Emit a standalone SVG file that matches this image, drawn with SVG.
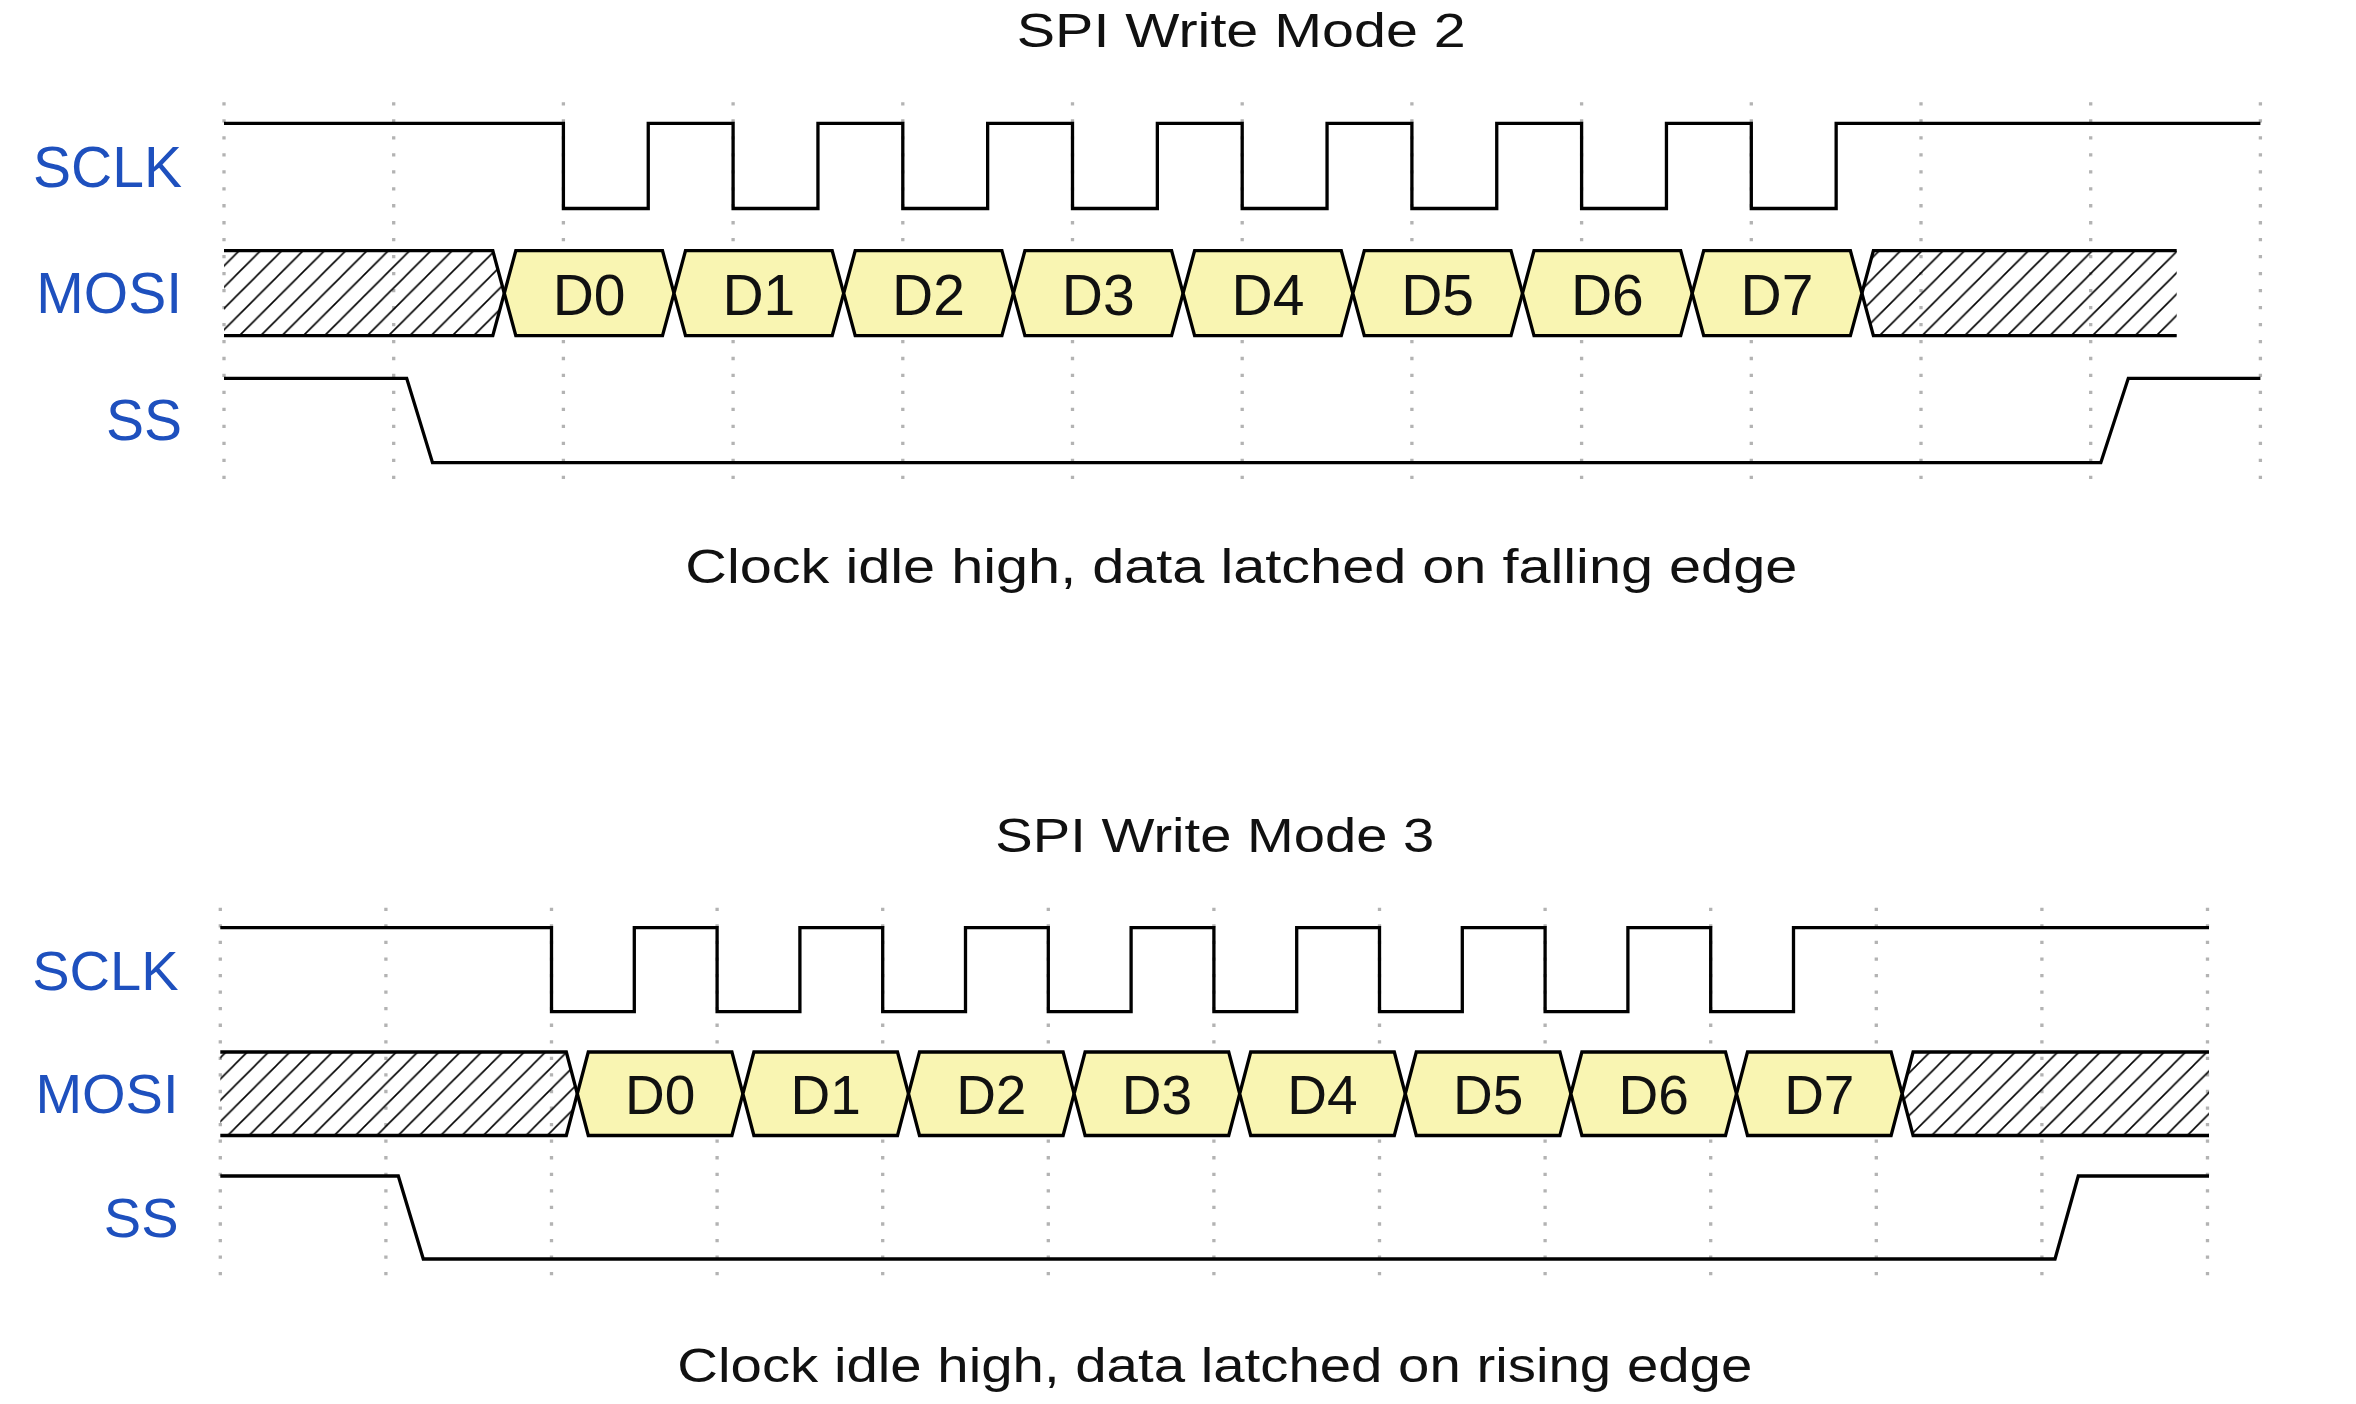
<svg xmlns="http://www.w3.org/2000/svg" width="2356" height="1404" viewBox="0 0 2356 1404">
<defs>
<pattern id="hatch" patternUnits="userSpaceOnUse" width="21.3" height="21.3">
<path d="M0,21.3 L21.3,0 M-5,5 L5,-5 M16.3,26.3 L26.3,16.3" stroke="#000" stroke-width="1.6" fill="none"/>
</pattern>
<style>
.grid{stroke:#b3b3b3;stroke-width:3.3;fill:none}
.sig{stroke:#000;stroke-width:3.3;fill:none;stroke-linejoin:miter}
.hex{fill:#f9f5b2;stroke:#000;stroke-width:3.3;stroke-linejoin:miter}
.hf{fill:url(#hatch);stroke:none}
.lbl{font-family:"Liberation Sans",Arial,sans-serif;fill:#1e50be;text-anchor:end}
.dat{font-family:"Liberation Sans",Arial,sans-serif;fill:#111;text-anchor:middle}
.ttl{font-family:"Liberation Sans",Arial,sans-serif;fill:#111;text-anchor:middle;font-size:49px}
</style>
</defs>
<rect width="2356" height="1404" fill="#fff"/>

<!-- ===== Mode 2 ===== -->
<g id="mode2">
<text class="ttl" x="1241.3" y="46.7" textLength="449" lengthAdjust="spacingAndGlyphs">SPI Write Mode 2</text>
<g id="grid2" class="grid" stroke-dasharray="3.3 13.67">
<line x1="224" y1="102.3" x2="224" y2="482"/>
<line x1="393.7" y1="102.3" x2="393.7" y2="482"/>
<line x1="563.4" y1="102.3" x2="563.4" y2="482"/>
<line x1="733.1" y1="102.3" x2="733.1" y2="482"/>
<line x1="902.8" y1="102.3" x2="902.8" y2="482"/>
<line x1="1072.5" y1="102.3" x2="1072.5" y2="482"/>
<line x1="1242.2" y1="102.3" x2="1242.2" y2="482"/>
<line x1="1411.9" y1="102.3" x2="1411.9" y2="482"/>
<line x1="1581.6" y1="102.3" x2="1581.6" y2="482"/>
<line x1="1751.3" y1="102.3" x2="1751.3" y2="482"/>
<line x1="1921" y1="102.3" x2="1921" y2="482"/>
<line x1="2090.7" y1="102.3" x2="2090.7" y2="482"/>
<line x1="2260.4" y1="102.3" x2="2260.4" y2="482"/>
</g>
<g id="labels2" class="lbl" font-size="57">
<text x="182" y="187.3">SCLK</text>
<text x="182" y="313.3">MOSI</text>
<text x="182" y="440">SS</text>
</g>
<g id="sclk2">
<path class="sig" d="M224,123.3 H563.4 V208.5 H648.25 V123.3 H733.1 V208.5 H817.95 V123.3 H902.8 V208.5 H987.65 V123.3 H1072.5 V208.5 H1157.35 V123.3 H1242.2 V208.5 H1327.05 V123.3 H1411.9 V208.5 H1496.75 V123.3 H1581.6 V208.5 H1666.45 V123.3 H1751.3 V208.5 H1836.15 V123.3 H2260.4"/>
</g>
<g id="mosi2">
<polygon class="hf" points="224,250.7 492.8,250.7 504.3,293.2 492.8,335.7 224,335.7"/>
<path class="sig" d="M224,250.7 H492.8 L504.3,293.2 L492.8,335.7 H224"/>
<polygon class="hf" points="1861.9,293.2 1873.4,250.7 2176.7,250.7 2176.7,335.7 1873.4,335.7"/>
<path class="sig" d="M2176.7,250.7 H1873.4 L1861.9,293.2 L1873.4,335.7 H2176.7"/>
<g id="m2d0"><polygon class="hex" points="504.3,293.2 515.8,250.7 662.5,250.7 674,293.2 662.5,335.7 515.8,335.7"/><text class="dat" font-size="57" x="589.15" y="315">D0</text></g>
<g id="m2d1"><polygon class="hex" points="674,293.2 685.5,250.7 832.2,250.7 843.7,293.2 832.2,335.7 685.5,335.7"/><text class="dat" font-size="57" x="758.85" y="315">D1</text></g>
<g id="m2d2"><polygon class="hex" points="843.7,293.2 855.2,250.7 1001.9,250.7 1013.4,293.2 1001.9,335.7 855.2,335.7"/><text class="dat" font-size="57" x="928.55" y="315">D2</text></g>
<g id="m2d3"><polygon class="hex" points="1013.4,293.2 1024.9,250.7 1171.6,250.7 1183.1,293.2 1171.6,335.7 1024.9,335.7"/><text class="dat" font-size="57" x="1098.25" y="315">D3</text></g>
<g id="m2d4"><polygon class="hex" points="1183.1,293.2 1194.6,250.7 1341.3,250.7 1352.8,293.2 1341.3,335.7 1194.6,335.7"/><text class="dat" font-size="57" x="1267.95" y="315">D4</text></g>
<g id="m2d5"><polygon class="hex" points="1352.8,293.2 1364.3,250.7 1511,250.7 1522.5,293.2 1511,335.7 1364.3,335.7"/><text class="dat" font-size="57" x="1437.65" y="315">D5</text></g>
<g id="m2d6"><polygon class="hex" points="1522.5,293.2 1534,250.7 1680.7,250.7 1692.2,293.2 1680.7,335.7 1534,335.7"/><text class="dat" font-size="57" x="1607.35" y="315">D6</text></g>
<g id="m2d7"><polygon class="hex" points="1692.2,293.2 1703.7,250.7 1850.4,250.7 1861.9,293.2 1850.4,335.7 1703.7,335.7"/><text class="dat" font-size="57" x="1777.05" y="315">D7</text></g>
</g>
<g id="ss2">
<path class="sig" d="M224,378.3 H406.7 L432.5,462.7 H2100.8 L2128.3,378.3 H2260.4"/>
</g>
<text class="ttl" x="1241.3" y="583.3" textLength="1112" lengthAdjust="spacingAndGlyphs">Clock idle high, data latched on falling edge</text>
</g>

<!-- ===== Mode 3 ===== -->
<g id="mode3">
<text class="ttl" x="1214.8" y="851.5" textLength="439" lengthAdjust="spacingAndGlyphs">SPI Write Mode 3</text>
<g id="grid3" class="grid" stroke-dasharray="3.3 13.26">
<line x1="220.3" y1="907.7" x2="220.3" y2="1276"/>
<line x1="385.9" y1="907.7" x2="385.9" y2="1276"/>
<line x1="551.5" y1="907.7" x2="551.5" y2="1276"/>
<line x1="717.1" y1="907.7" x2="717.1" y2="1276"/>
<line x1="882.7" y1="907.7" x2="882.7" y2="1276"/>
<line x1="1048.3" y1="907.7" x2="1048.3" y2="1276"/>
<line x1="1213.9" y1="907.7" x2="1213.9" y2="1276"/>
<line x1="1379.5" y1="907.7" x2="1379.5" y2="1276"/>
<line x1="1545.1" y1="907.7" x2="1545.1" y2="1276"/>
<line x1="1710.7" y1="907.7" x2="1710.7" y2="1276"/>
<line x1="1876.3" y1="907.7" x2="1876.3" y2="1276"/>
<line x1="2041.9" y1="907.7" x2="2041.9" y2="1276"/>
<line x1="2207.5" y1="907.7" x2="2207.5" y2="1276"/>
</g>
<g id="labels3" class="lbl" font-size="56">
<text x="178.5" y="990">SCLK</text>
<text x="178.5" y="1113.3">MOSI</text>
<text x="178.5" y="1236.7">SS</text>
</g>
<g id="sclk3">
<path class="sig" d="M220.3,927.7 H551.5 V1011.7 H634.3 V927.7 H717.1 V1011.7 H799.9 V927.7 H882.7 V1011.7 H965.5 V927.7 H1048.3 V1011.7 H1131.1 V927.7 H1213.9 V1011.7 H1296.7 V927.7 H1379.5 V1011.7 H1462.3 V927.7 H1545.1 V1011.7 H1627.9 V927.7 H1710.7 V1011.7 H1793.5 V927.7 H2209"/>
</g>
<g id="mosi3">
<polygon class="hf" points="220.3,1052 566.3,1052 577.3,1093.75 566.3,1135.5 220.3,1135.5"/>
<path class="sig" d="M220.3,1052 H566.3 L577.3,1093.75 L566.3,1135.5 H220.3"/>
<polygon class="hf" points="1902.1,1093.75 1913.1,1052 2209,1052 2209,1135.5 1913.1,1135.5"/>
<path class="sig" d="M2209,1052 H1913.1 L1902.1,1093.75 L1913.1,1135.5 H2209"/>
<g id="m3d0"><polygon class="hex" points="577.3,1093.75 588.3,1052 731.9,1052 742.9,1093.75 731.9,1135.5 588.3,1135.5"/><text class="dat" font-size="55" x="660.1" y="1114.3">D0</text></g>
<g id="m3d1"><polygon class="hex" points="742.9,1093.75 753.9,1052 897.5,1052 908.5,1093.75 897.5,1135.5 753.9,1135.5"/><text class="dat" font-size="55" x="825.7" y="1114.3">D1</text></g>
<g id="m3d2"><polygon class="hex" points="908.5,1093.75 919.5,1052 1063.1,1052 1074.1,1093.75 1063.1,1135.5 919.5,1135.5"/><text class="dat" font-size="55" x="991.3" y="1114.3">D2</text></g>
<g id="m3d3"><polygon class="hex" points="1074.1,1093.75 1085.1,1052 1228.7,1052 1239.7,1093.75 1228.7,1135.5 1085.1,1135.5"/><text class="dat" font-size="55" x="1156.9" y="1114.3">D3</text></g>
<g id="m3d4"><polygon class="hex" points="1239.7,1093.75 1250.7,1052 1394.3,1052 1405.3,1093.75 1394.3,1135.5 1250.7,1135.5"/><text class="dat" font-size="55" x="1322.5" y="1114.3">D4</text></g>
<g id="m3d5"><polygon class="hex" points="1405.3,1093.75 1416.3,1052 1559.9,1052 1570.9,1093.75 1559.9,1135.5 1416.3,1135.5"/><text class="dat" font-size="55" x="1488.1" y="1114.3">D5</text></g>
<g id="m3d6"><polygon class="hex" points="1570.9,1093.75 1581.9,1052 1725.5,1052 1736.5,1093.75 1725.5,1135.5 1581.9,1135.5"/><text class="dat" font-size="55" x="1653.7" y="1114.3">D6</text></g>
<g id="m3d7"><polygon class="hex" points="1736.5,1093.75 1747.5,1052 1891.1,1052 1902.1,1093.75 1891.1,1135.5 1747.5,1135.5"/><text class="dat" font-size="55" x="1819.3" y="1114.3">D7</text></g>
</g>
<g id="ss3">
<path class="sig" d="M220.3,1176 H398.3 L423.3,1259 H2055 L2078.3,1176 H2209"/>
</g>
<text class="ttl" x="1214.8" y="1381.7" textLength="1075" lengthAdjust="spacingAndGlyphs">Clock idle high, data latched on rising edge</text>
</g>
</svg>
